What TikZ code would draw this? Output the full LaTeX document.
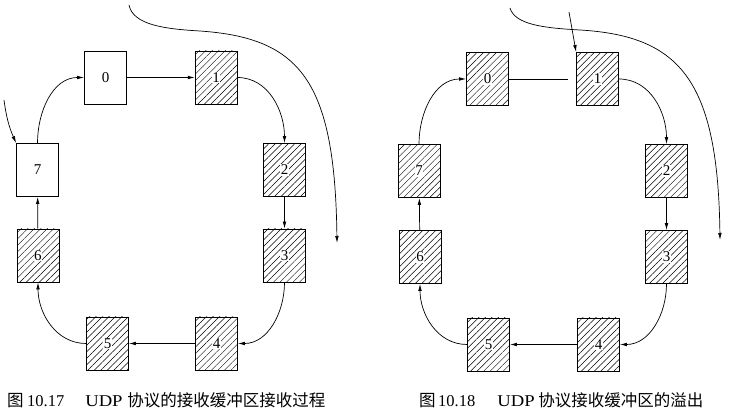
\documentclass[tikz,border=0pt]{standalone}
\usepackage{graphicx}
\usepackage{fontspec}
\setmainfont{Liberation Serif}
\newfontfamily\cjk{Noto Sans CJK SC}
\usetikzlibrary{patterns.meta,arrows.meta}
\begin{document}
\begin{tikzpicture}[x=1pt,y=-1pt,
  buf/.style={draw,line width=0.8pt,minimum width=42pt,minimum height=53pt,inner sep=0pt},
  full/.style={buf,pattern={Lines[angle=45,distance=4.6pt,line width=0.5pt]}},
  dig/.style={font=\fontsize{15}{17}\selectfont},
  digw/.style={font=\fontsize{15}{17}\selectfont,fill=white,inner sep=0.6pt},
  link/.style={line width=0.7pt,-{Latex[length=7pt,width=3.6pt]}},
  captxt/.style={anchor=west,inner sep=0pt,font=\fontsize{16.5}{19}\selectfont}]
\useasboundingbox (0,0) rectangle (731,419);
% ---------- left figure ----------
\node[buf,label={[dig]center:0}] (a0) at (105.5,77.5) {};
\node[full,label={[digw]center:1}] (a1) at (216,77.5) {};
\node[full,label={[digw]center:2}] (a2) at (284.5,170) {};
\node[full,label={[digw]center:3}] (a3) at (284.5,255.5) {};
\node[full,label={[digw]center:4}] (a4) at (216.5,343.5) {};
\node[full,label={[digw]center:5}] (a5) at (107.5,343.5) {};
\node[full,label={[digw]center:6}] (a6) at (38,255.5) {};
\node[buf,label={[dig]center:7}] (a7) at (37.5,170) {};
\draw[link] (a0) -- (a1);
\draw[link] (a1.east) to[out=0,in=90] (a2.north);
\draw[link] (a2) -- (a3);
\draw[link] (a3.south) to[out=-90,in=0] (a4.east);
\draw[link] (a4) -- (a5);
\draw[link] (a5.west) to[out=180,in=-90] (a6.south);
\draw[link] (a6) -- (a7);
\draw[link] (a7.north) to[out=90,in=180] (a0.west);
\coordinate (ap) at (4,100);
\draw[link] (ap) to[bend right=8] (a7.north west);
\coordinate (as) at (129,5);
\coordinate (am) at (200,31);
\coordinate (ae) at (337,243);
\draw[link] (as) .. controls (133,25) and (165,29) .. (am)
  .. controls (300,38) and (335,80) .. (ae);
\node[captxt] (acap) at (7,400) {{\cjk 图}\hspace{3.5pt}10.17\hspace{21pt}\makebox[42pt][l]{\scalebox{1.13}[1]{UDP}}{\cjk 协议的接收缓冲区接收过程}};
% ---------- right figure ----------
\node[full,label={[digw]center:0}] (b0) at (487.5,79) {};
\node[full,label={[digw]center:1}] (b1) at (597.5,79) {};
\node[full,label={[digw]center:2}] (b2) at (666.5,171) {};
\node[full,label={[digw]center:3}] (b3) at (666.5,257) {};
\node[full,label={[digw]center:4}] (b4) at (598.5,344.5) {};
\node[full,label={[digw]center:5}] (b5) at (488.5,344.5) {};
\node[full,label={[digw]center:6}] (b6) at (420,257) {};
\node[full,label={[digw]center:7}] (b7) at (419,171) {};
\coordinate (bg) at (568,79);
\draw[line width=0.7pt] (b0) -- (bg);
\draw[link] (b1.east) to[out=0,in=90] (b2.north);
\draw[link] (b2) -- (b3);
\draw[link] (b3.south) to[out=-90,in=0] (b4.east);
\draw[link] (b4) -- (b5);
\draw[link] (b5.west) to[out=180,in=-90] (b6.south);
\draw[link] (b6) -- (b7);
\draw[link] (b7.north) to[out=90,in=180] (b0.west);
\coordinate (bp) at (569,12);
\draw[link] (bp) -- (b1.north west);
\coordinate (bs) at (510,8);
\coordinate (bm) at (580,30);
\coordinate (be) at (720,240);
\draw[link] (bs) .. controls (515,25) and (545,28) .. (bm)
  .. controls (680,36) and (718,80) .. (be);
\node[captxt] (bcap) at (419,400) {{\cjk 图}\hspace{2.5pt}10.18\hspace{22pt}\makebox[41pt][l]{\scalebox{1.13}[1]{UDP}}{\cjk 协议接收缓冲区的溢出}};
\end{tikzpicture}
\end{document}
